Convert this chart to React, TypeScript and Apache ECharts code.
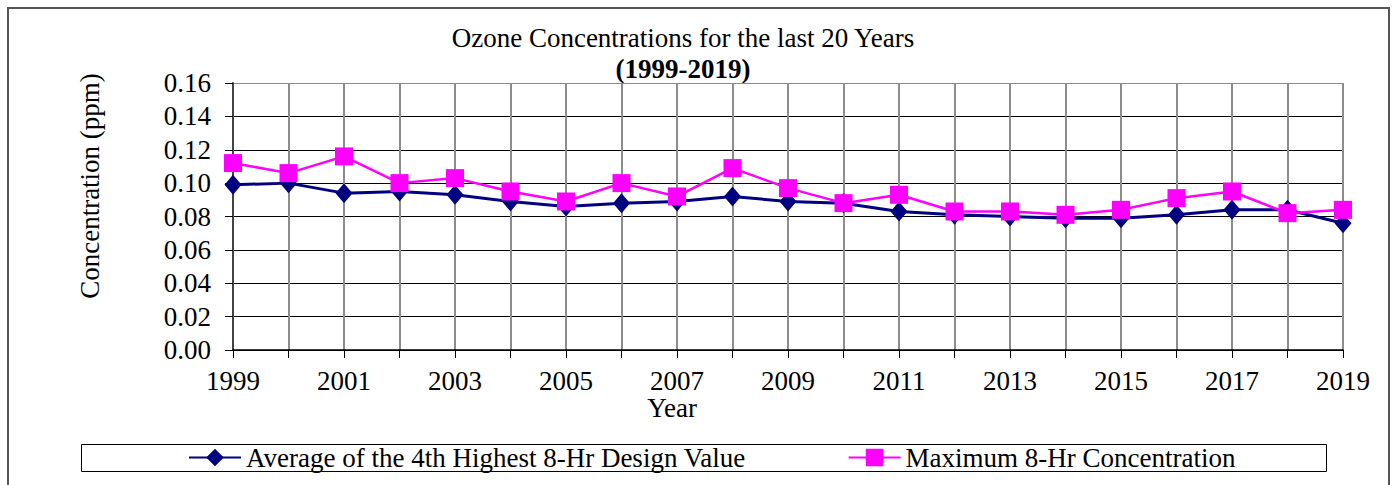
import React, { useEffect, useRef } from "react";
import * as echarts from "echarts";

const years = ["1999","2000","2001","2002","2003","2004","2005","2006","2007","2008","2009","2010","2011","2012","2013","2014","2015","2016","2017","2018","2019"];
const avg4thHighest = [0.099,0.100,0.094,0.095,0.093,0.089,0.086,0.088,0.089,0.092,0.089,0.088,0.083,0.081,0.080,0.079,0.079,0.081,0.084,0.084,0.076];
const max8Hr = [0.112,0.106,0.116,0.100,0.103,0.095,0.089,0.100,0.092,0.109,0.097,0.088,0.093,0.083,0.083,0.081,0.084,0.091,0.095,0.082,0.084];
const seriesNames = ["Average of the 4th Highest 8-Hr Design Value", "Maximum 8-Hr Concentration"];
const titleText = "Ozone Concentrations for the last 20 Years";
const subtitleText = "(1999-2019)";
const yAxisTitle = "Concentration (ppm)";
const xAxisTitle = "Year";

const FONT = "'Liberation Serif', 'Times New Roman', serif";

export default function App() {
  const ref = useRef<HTMLDivElement>(null);
  useEffect(() => {
    const chart = echarts.init(ref.current!, null, { renderer: "svg" });
    chart.setOption({
      animation: false,
      backgroundColor: "#ffffff",
      textStyle: { fontFamily: FONT },
      grid: { left: 233, right: 50, top: 83, bottom: 135, show: false },
      xAxis: {
        type: "category",
        data: years,
        boundaryGap: false,
        axisLine: { lineStyle: { color: "#000", width: 1.5 } },
        axisTick: { show: true, interval: 0, length: 8, lineStyle: { color: "#000" } },
        axisLabel: { interval: 1, color: "#000", fontSize: 27, fontFamily: FONT, margin: 17 },
        splitLine: { show: true, interval: 0, lineStyle: { color: "#8c8c8c", width: 2 } },
      },
      yAxis: {
        type: "value",
        min: 0,
        max: 0.16,
        interval: 0.02,
        axisLine: { show: true, lineStyle: { color: "#444", width: 2 } },
        axisTick: { show: true, length: 8, lineStyle: { color: "#000" } },
        axisLabel: { color: "#000", fontSize: 27, fontFamily: FONT, margin: 22, formatter: (v: number) => v.toFixed(2) },
        splitLine: { show: true, lineStyle: { color: ["#000","#000","#000","#000","#000","#000","#000","#000","#8c8c8c"], width: 1 } },
      },
      legend: {
        show: true,
        left: 188,
        top: 444,
        padding: 0,
        itemWidth: 52,
        itemHeight: 22,
        itemGap: 102,
        textStyle: { color: "#000", fontSize: 27, fontFamily: FONT, padding: 0 },
        data: seriesNames,
      },
      graphic: [
        { type: "rect", shape: { x: 8, y: 8, width: 1381, height: 500 }, style: { fill: "none", stroke: "#555", lineWidth: 2 }, z: -1 },
        { type: "rect", shape: { x: 81.5, y: 444.5, width: 1245, height: 27 }, style: { fill: "none", stroke: "#000", lineWidth: 1 } },
        { type: "line", shape: { x1: 1343, y1: 83, x2: 1343, y2: 350 }, style: { stroke: "#8c8c8c", lineWidth: 2 } },
        { type: "text", x: 683, y: 38, style: { text: titleText, font: "27px " + FONT, fill: "#000", textAlign: "center", textVerticalAlign: "middle" } },
        { type: "text", x: 683, y: 69, style: { text: subtitleText, font: "bold 27px " + FONT, fill: "#000", textAlign: "center", textVerticalAlign: "middle" } },
        { type: "text", x: 90, y: 186, rotation: Math.PI / 2, style: { text: yAxisTitle, font: "27px " + FONT, fill: "#000", textAlign: "center", textVerticalAlign: "middle" } },
        { type: "text", x: 672, y: 408, style: { text: xAxisTitle, font: "27px " + FONT, fill: "#000", textAlign: "center", textVerticalAlign: "middle" } },
      ],
      series: [
        {
          name: seriesNames[0],
          type: "line",
          data: avg4thHighest,
          symbol: "diamond",
          symbolSize: [17, 20],
          itemStyle: { color: "#000080" },
          lineStyle: { color: "#000080", width: 3 },
          z: 2,
        },
        {
          name: seriesNames[1],
          type: "line",
          data: max8Hr,
          symbol: "rect",
          symbolSize: 18,
          itemStyle: { color: "#ff00ff" },
          lineStyle: { color: "#ff00ff", width: 2.5 },
          z: 3,
        },
      ],
    });
    return () => chart.dispose();
  }, []);
  return <div ref={ref} style={{ position: "fixed", left: 0, top: 0, width: 1393, height: 485 }} />;
}
